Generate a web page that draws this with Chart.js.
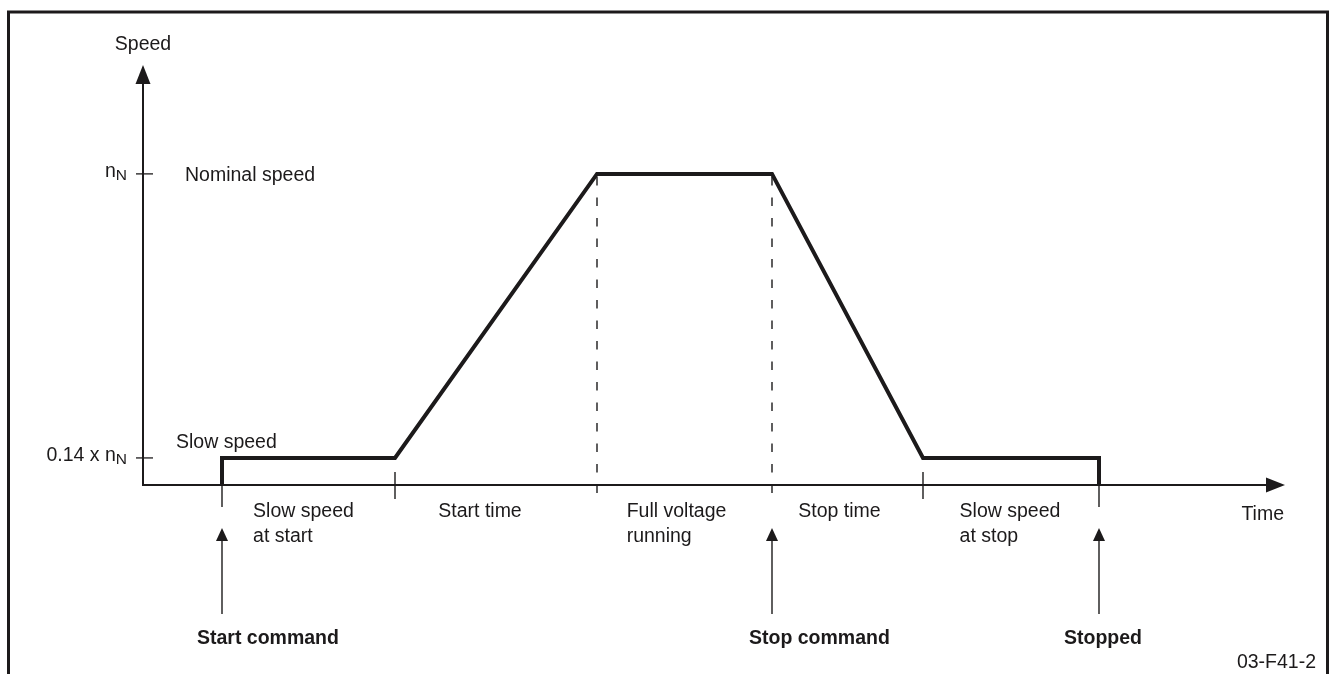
<!DOCTYPE html>
<html>
<head>
<meta charset="utf-8">
<script src="https://cdn.jsdelivr.net/npm/chart.js@4"></script>
<style>
  html, body { margin: 0; padding: 0; background: #fff; }
  #wrap { width: 1329px; height: 674px; position: relative; }
</style>
</head>
<body>
<div id="wrap"><canvas id="chart"></canvas></div>
<script>
// time axis, arbitrary units (0 = origin)
const timeMax = 114.2;
const speedMax = 1.35;

// speed profile (nominal speed = 1)
const profileTime  = [7.9, 7.9, 25.2, 45.4, 62.9, 78.0, 95.6, 95.6];
const profileSpeed = [0, 0.087, 0.087, 1, 1, 0.087, 0.087, 0];

// phase boundaries along the time axis
const phaseBounds = [7.9, 25.2, 45.4, 62.9, 78.0, 95.6];
const phaseLabels = [
  ['Slow speed', 'at start'],
  ['Start time'],
  ['Full voltage', 'running'],
  ['Stop time'],
  ['Slow speed', 'at stop']
];
const dashedTimes = [45.4, 62.9];
const crossTickTimes = [25.2, 78.0];

// speed axis marks
const speedTicks = [0.087, 1];
const speedTickLabels = [['0.14 x n', 'N'], ['n', 'N']];
const speedNotes = ['Slow speed', 'Nominal speed'];

// events
const commandTimes = [7.9, 62.9, 95.6];
const commandLabels = ['Start command', 'Stop command', 'Stopped'];

const INK = '#1c1a1b';
const FONT = '"Liberation Sans", Arial, sans-serif';

function arrowHead(ctx, x, y, dir, len, half) {
  ctx.beginPath();
  if (dir === 'up') {
    ctx.moveTo(x, y); ctx.lineTo(x - half, y + len); ctx.lineTo(x + half, y + len);
  } else {
    ctx.moveTo(x, y); ctx.lineTo(x - len, y - half); ctx.lineTo(x - len, y + half);
  }
  ctx.closePath();
  ctx.fill();
}

const diagram = {
  id: 'diagram',
  beforeDatasetsDraw(chart) {
    const { ctx, scales: { x, y } } = chart;
    const x0 = x.getPixelForValue(0), y0 = y.getPixelForValue(0);
    const xEnd = x.getPixelForValue(timeMax), yTop = y.getPixelForValue(speedMax);
    ctx.save();
    ctx.strokeStyle = INK; ctx.fillStyle = INK;

    // frame
    ctx.lineWidth = 3;
    ctx.beginPath();
    ctx.moveTo(8.5, 674); ctx.lineTo(8.5, 12); ctx.lineTo(1327.5, 12); ctx.lineTo(1327.5, 674);
    ctx.stroke();

    // axes
    ctx.lineWidth = 2;
    ctx.beginPath();
    ctx.moveTo(x0, yTop + 16); ctx.lineTo(x0, y0); ctx.lineTo(xEnd - 16, y0);
    ctx.stroke();
    arrowHead(ctx, x0, yTop, 'up', 19, 7.5);
    arrowHead(ctx, xEnd, y0, 'right', 19, 7.5);

    // speed ticks
    ctx.lineWidth = 1.3;
    speedTicks.forEach(v => {
      const py = y.getPixelForValue(v);
      ctx.beginPath(); ctx.moveTo(x0 - 7, py); ctx.lineTo(x0 + 10, py); ctx.stroke();
    });

    // dashed phase lines
    ctx.lineWidth = 1.4;
    ctx.setLineDash([8.5, 12]);
    dashedTimes.forEach(t => {
      const px = x.getPixelForValue(t);
      ctx.beginPath(); ctx.moveTo(px, y.getPixelForValue(1) + 3); ctx.lineTo(px, y0 + 20); ctx.stroke();
    });
    ctx.setLineDash([]);

    // ticks crossing the time axis
    crossTickTimes.forEach(t => {
      const px = x.getPixelForValue(t);
      ctx.beginPath(); ctx.moveTo(px, y0 - 13); ctx.lineTo(px, y0 + 14); ctx.stroke();
    });
    // ticks below the axis at start/stop
    [commandTimes[0], commandTimes[2]].forEach(t => {
      const px = x.getPixelForValue(t);
      ctx.beginPath(); ctx.moveTo(px, y0); ctx.lineTo(px, y0 + 22); ctx.stroke();
    });
    ctx.restore();
  },
  afterDatasetsDraw(chart) {
    const { ctx, scales: { x, y } } = chart;
    const x0 = x.getPixelForValue(0), y0 = y.getPixelForValue(0);
    const xEnd = x.getPixelForValue(timeMax), yTop = y.getPixelForValue(speedMax);
    ctx.save();
    ctx.fillStyle = INK; ctx.strokeStyle = INK;
    ctx.textBaseline = 'alphabetic';
    const reg = '19.5px ' + FONT;

    // axis titles
    ctx.font = reg;
    ctx.textAlign = 'center';
    ctx.fillText('Speed', x0, yTop - 15);
    ctx.textAlign = 'right';
    ctx.fillText('Time', xEnd - 1, y0 + 35);

    // speed tick labels with subscript
    speedTicks.forEach((v, i) => {
      const py = y.getPixelForValue(v);
      const [main, sub] = speedTickLabels[i];
      ctx.font = '15.5px ' + FONT;
      const subW = ctx.measureText(sub).width;
      const right = x0 - 16;
      ctx.textAlign = 'right';
      ctx.fillText(sub, right, py + 6.5);
      ctx.font = reg;
      ctx.fillText(main, right - subW, py + 3);
    });

    // notes next to speed levels
    ctx.textAlign = 'left';
    ctx.font = reg;
    ctx.fillText(speedNotes[0], x0 + 33, y.getPixelForValue(speedTicks[0]) - 10);
    ctx.fillText(speedNotes[1], x0 + 42, y.getPixelForValue(speedTicks[1]) + 7.5);

    // phase labels
    const nudge = [0, -11, -3, -3, 4];
    phaseLabels.forEach((lines, i) => {
      const a = x.getPixelForValue(phaseBounds[i]);
      const b = x.getPixelForValue(phaseBounds[i + 1]);
      const w = Math.max(...lines.map(l => ctx.measureText(l).width));
      const left = (a + b) / 2 - w / 2 - 5 + nudge[i];
      lines.forEach((l, k) => ctx.fillText(l, left, y0 + 32 + k * 25));
    });

    // command arrows
    const dx = [-25, -23, -35];
    commandTimes.forEach((t, i) => {
      const px = x.getPixelForValue(t);
      ctx.lineWidth = 1.4;
      ctx.beginPath(); ctx.moveTo(px, y0 + 52); ctx.lineTo(px, y0 + 129); ctx.stroke();
      arrowHead(ctx, px, y0 + 43, 'up', 13, 6);
      ctx.font = 'bold 19.5px ' + FONT;
      ctx.fillText(commandLabels[i], px + dx[i], y0 + 159);
    });

    // figure code
    ctx.font = reg;
    ctx.textAlign = 'right';
    ctx.fillText('03-F41-2', 1316, 668);
    ctx.restore();
  }
};

new Chart(document.getElementById('chart'), {
  type: 'line',
  data: {
    datasets: [{
      label: 'Speed',
      data: profileTime.map((t, i) => ({ x: t, y: profileSpeed[i] })),
      borderColor: INK,
      borderWidth: 4,
      borderJoinStyle: 'miter',
      pointRadius: 0,
      tension: 0,
      fill: false,
      clip: false
    }]
  },
  options: {
    responsive: true,
    maintainAspectRatio: false,
    animation: false,
    layout: { padding: { left: 143, right: 44, top: 65, bottom: 189 } },
    plugins: { legend: { display: false }, tooltip: { enabled: false } },
    scales: {
      x: { type: 'linear', min: 0, max: timeMax, display: false },
      y: { type: 'linear', min: 0, max: speedMax, display: false }
    }
  },
  plugins: [diagram]
});
</script>
</body>
</html>
